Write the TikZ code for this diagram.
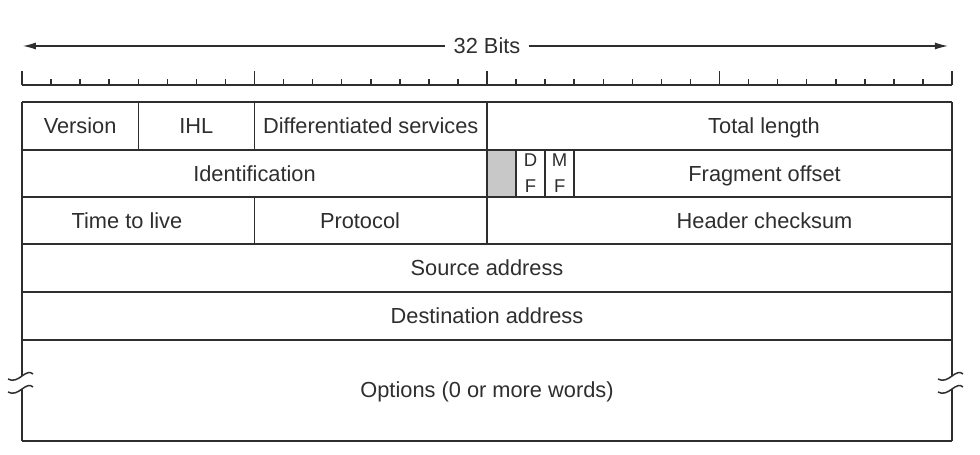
\documentclass[tikz,border=0pt]{standalone}
\usepackage{fontspec}
\setmainfont{Liberation Sans}
\usetikzlibrary{arrows.meta}
\definecolor{ink}{HTML}{2E2E2E}
\definecolor{pad}{HTML}{C8C8C8}
\tikzset{
  fld/.style={font=\fontsize{21.8}{26}\selectfont, text=ink, inner sep=0pt, text height=15.6pt, text depth=0pt},
  flag/.style={font=\fontsize{18.5}{26}\selectfont, text=ink, inner sep=0pt, align=center},
  rule/.style={draw=ink, line width=1.5pt},
  brk/.pic={\draw[rule] (-14pt,-3pt) .. controls (-9pt,-6pt) and (-4pt,-3pt) .. (0pt,0pt) .. controls (4pt,3pt) and (8pt,5pt) .. (11pt,2pt);}
}
\begin{document}
\begin{tikzpicture}[>={Latex[length=13pt,width=7pt]}, x=29.0625pt, y=-1pt]
\useasboundingbox (-0.757,0) rectangle (32.963,454);

% 32 bits
\node[fld, inner xsep=8pt] (bits) at (16,46) {32 Bits};
\coordinate (lend) at (0.03,46);
\coordinate (rend) at (31.86,46);
\draw[->, draw=ink, line width=1.2pt] (bits) -- (lend);
\draw[->, draw=ink, line width=1.2pt] (bits) -- (rend);

% ruler
\draw[rule] (0,85)--(32,85);
\foreach \b in {0,1,...,32}
{
    \draw[rule] (\b,85)--(\b,79);
}
\foreach \b in {0,8,16,24,32}
{
    \draw[rule] (\b,85)--(\b,71.5);
}

% header rows
\filldraw[rule, fill=pad] (16,150) rectangle (17,197);
\foreach \y in {102,150,197,244,292,340,441}
{
    \draw[rule] (0,\y)--(32,\y);
}
\draw[rule] (0,102)--(0,376);
\draw[rule] (32,102)--(32,376);
\draw[rule] (0,389)--(0,441);
\draw[rule] (32,389)--(32,441);
\draw[rule] (4,102)--(4,150);
\draw[rule] (8,102)--(8,150);
\draw[rule] (16,102)--(16,244);
\draw[rule] (8,197)--(8,244);
\draw[rule] (18,150)--(18,197);
\draw[rule] (19,150)--(19,197);

% breaks in the options row
\pic at (0,376) {brk};
\pic at (0,389) {brk};
\pic at (32,376) {brk};
\pic at (32,389) {brk};

% fields
\node[fld] (ver) at (2,126) {Version};
\node[fld] (ihl) at (6,126) {IHL};
\node[fld] (dsrv) at (12,126) {Differentiated services};
\node[fld] (tlen) at (25.53,126) {Total length};
\node[fld] (ident) at (8,173.5) {Identification};
\node[flag] (df) at (17.5,173) {D\\F};
\node[flag] (mf) at (18.5,173) {M\\F};
\node[fld] (frag) at (25.55,173.5) {Fragment offset};
\node[fld] (ttl) at (3.61,220.5) {Time to live};
\node[fld] (proto) at (11.63,220.5) {Protocol};
\node[fld] (csum) at (25.55,220.5) {Header checksum};
\node[fld] (src) at (16,268) {Source address};
\node[fld] (dst) at (16,316) {Destination address};
\node[fld] (opts) at (16,390) {Options (0 or more words)};

\end{tikzpicture}
\end{document}
